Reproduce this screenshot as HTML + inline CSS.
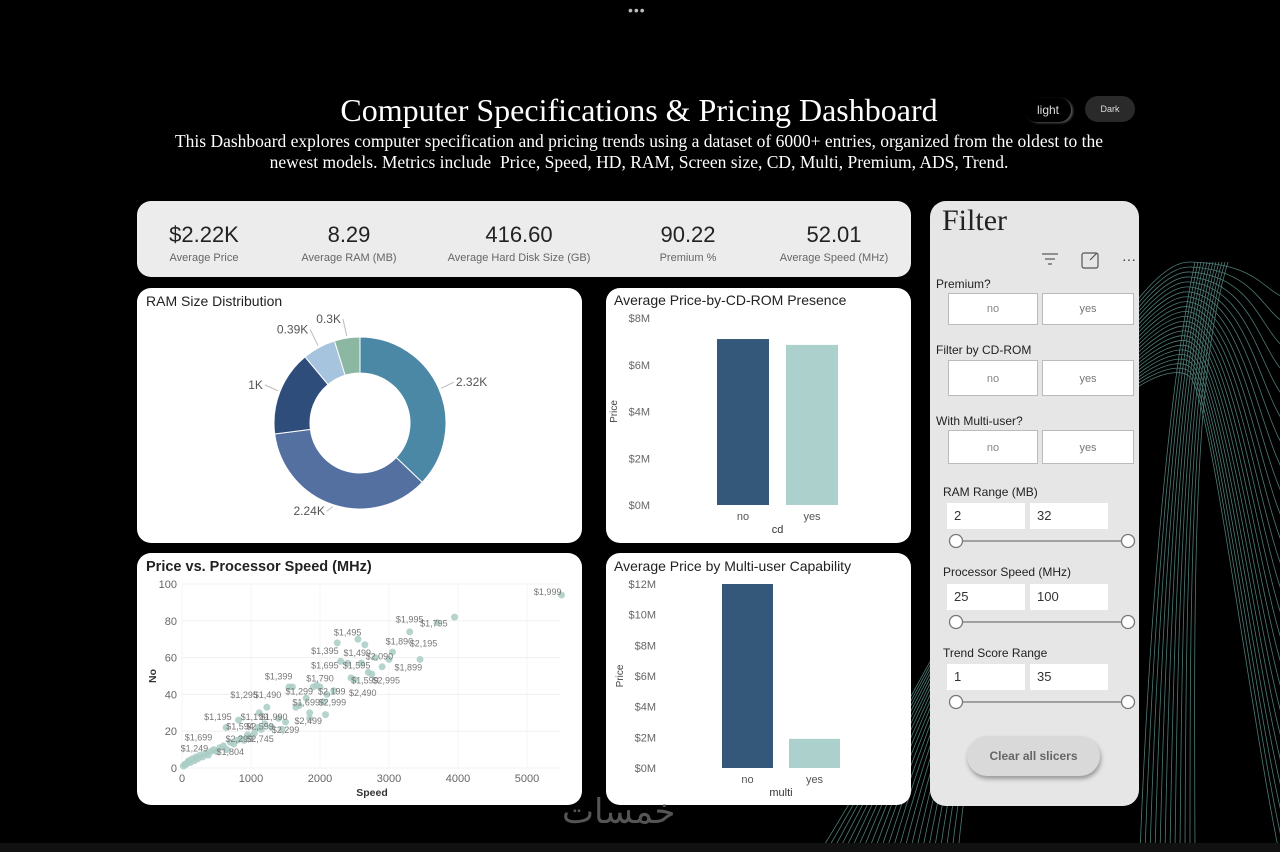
<!DOCTYPE html>
<html><head><meta charset="utf-8">
<style>
*{margin:0;padding:0;box-sizing:border-box}
html,body{width:1280px;height:852px;overflow:hidden}
body{background:#000;position:relative;font-family:"Liberation Sans",sans-serif}
.abs{position:absolute}
.card{position:absolute;background:#fff;border-radius:14px}
.serif{font-family:"Liberation Serif",serif}
.kpi{position:absolute;top:222px;text-align:center;width:180px}
.kpi b{display:block;font-weight:normal;font-size:22px;color:#222}
.kpi span{display:block;font-size:11px;color:#666;margin-top:4px}
.flbl{position:absolute;font-size:12px;color:#222}
.btn{position:absolute;background:#fff;border:1px solid #bbb;font-size:11px;color:#888;text-align:center;line-height:30px;height:32px}
.inp{position:absolute;background:#fff;height:26px;width:78px;font-size:13px;color:#333;padding:5px 7px}
</style></head><body>
<svg class="abs" style="left:0;top:0" width="1280" height="852">
<g id="waves" fill="none" stroke="#6fb0a8" stroke-width="0.8" opacity="0.7"></g>
<rect x="0" y="843" width="1280" height="9" fill="#111"/>
</svg>
<div class="abs" style="left:628px;top:2px;color:#bbb;font-size:14px;letter-spacing:1px">•••</div>
<div class="abs serif" style="left:0;width:1278px;top:92px;text-align:center;color:#fff;font-size:32px">Computer Specifications &amp; Pricing Dashboard</div>
<div class="abs serif" style="left:150px;width:978px;top:131px;text-align:center;color:#fff;font-size:17.5px;line-height:21px">This Dashboard explores computer specification and pricing trends using a dataset of 6000+ entries, organized from the oldest to the newest models. Metrics include&nbsp; Price, Speed, HD, RAM, Screen size, CD, Multi, Premium, ADS, Trend.</div>
<div class="abs" style="left:1025px;top:98px;width:46px;height:24px;border-radius:12px;background:#000;box-shadow:2px 1px 2px #555;color:#ddd;font-size:12px;text-align:center;line-height:24px">light</div>
<div class="abs" style="left:1085px;top:96px;width:50px;height:26px;border-radius:13px;background:#2a2a2a;color:#ddd;font-size:9px;text-align:center;line-height:26px">Dark</div>

<div class="card" style="left:137px;top:201px;width:774px;height:76px;background:#ececec"></div>
<div class="kpi" style="left:114px"><b>$2.22K</b><span>Average Price</span></div>
<div class="kpi" style="left:259px"><b>8.29</b><span>Average RAM (MB)</span></div>
<div class="kpi" style="left:429px;width:180px"><b>416.60</b><span>Average Hard Disk Size (GB)</span></div>
<div class="kpi" style="left:598px"><b>90.22</b><span>Premium %</span></div>
<div class="kpi" style="left:744px"><b>52.01</b><span>Average Speed (MHz)</span></div>

<div class="card" style="left:137px;top:288px;width:445px;height:255px"></div>
<div class="card" style="left:606px;top:288px;width:305px;height:255px"></div>
<div class="card" style="left:137px;top:553px;width:445px;height:252px"></div>
<div class="card" style="left:606px;top:553px;width:305px;height:252px"></div>

<svg class="abs" style="left:0;top:0" width="1280" height="852" id="charts" font-family="Liberation Sans, sans-serif">
<text x="146" y="306" font-size="14" fill="#222">RAM Size Distribution</text>
<text x="614" y="305" font-size="14" fill="#222">Average Price-by-CD-ROM Presence</text>
<text x="146" y="571" font-size="14.5" font-weight="bold" fill="#222">Price vs. Processor Speed (MHz)</text>
<text x="614" y="571" font-size="14" fill="#222">Average Price by Multi-user Capability</text>
<g id="donut"></g><g id="cd"></g><g id="multi"></g><g id="scatter"></g>
</svg>

<div class="card" style="left:930px;top:201px;width:209px;height:605px;background:#e6e6e6;border-radius:16px"></div>
<div class="abs serif" style="left:942px;top:204px;font-size:30px;color:#222">Filter</div>
<svg class="abs" style="left:1040px;top:250px" width="100" height="22">
<g stroke="#555" stroke-width="1.2" fill="none"><line x1="2" y1="4" x2="18" y2="4"/><line x1="5" y1="9" x2="15" y2="9"/><line x1="8" y1="14" x2="12" y2="14"/></g>
<g stroke="#555" stroke-width="1.2" fill="none"><rect x="42" y="3" width="16" height="15" rx="2"/><line x1="50" y1="10" x2="57" y2="3"/></g>
<text x="82" y="14" font-size="14" fill="#333">···</text>
</svg>
<div class="flbl" style="left:936px;top:277px">Premium?</div>
<div class="btn" style="left:948px;top:293px;width:90px">no</div>
<div class="btn" style="left:1042px;top:293px;width:92px;color:#777">yes</div>
<div class="flbl" style="left:936px;top:343px">Filter by CD-ROM</div>
<div class="btn" style="left:948px;top:360px;width:90px;height:36px;line-height:36px">no</div>
<div class="btn" style="left:1042px;top:360px;width:92px;height:36px;line-height:36px;color:#777">yes</div>
<div class="flbl" style="left:936px;top:414px">With Multi-user?</div>
<div class="btn" style="left:948px;top:430px;width:90px;height:34px;line-height:34px">no</div>
<div class="btn" style="left:1042px;top:430px;width:92px;height:34px;line-height:34px;color:#777">yes</div>

<div class="flbl" style="left:943px;top:485px">RAM Range (MB)</div>
<div class="inp" style="left:947px;top:503px">2</div>
<div class="inp" style="left:1030px;top:503px">32</div>
<div class="flbl" style="left:943px;top:565px">Processor Speed (MHz)</div>
<div class="inp" style="left:947px;top:584px">25</div>
<div class="inp" style="left:1030px;top:584px">100</div>
<div class="flbl" style="left:943px;top:646px">Trend Score Range</div>
<div class="inp" style="left:947px;top:664px">1</div>
<div class="inp" style="left:1030px;top:664px">35</div>
<svg class="abs" style="left:940px;top:530px" width="200" height="185">
<g stroke="#777" stroke-width="1.3" fill="#fff">
<line x1="16" y1="11" x2="188" y2="11"/><circle cx="16" cy="11" r="6.5"/><circle cx="188" cy="11" r="6.5"/>
<line x1="16" y1="92" x2="188" y2="92"/><circle cx="16" cy="92" r="6.5"/><circle cx="188" cy="92" r="6.5"/>
<line x1="16" y1="172" x2="188" y2="172"/><circle cx="16" cy="172" r="6.5"/><circle cx="188" cy="172" r="6.5"/>
</g></svg>
<div class="abs" style="left:967px;top:736px;width:133px;height:40px;border-radius:20px;background:#d9d9d9;box-shadow:1px 3px 4px #999;font-size:12px;font-weight:bold;color:#666;text-align:center;line-height:40px">Clear all slicers</div>
<div class="abs" style="left:562px;top:795px;height:40px;overflow:hidden;font-size:34px;line-height:1;color:#555;font-family:'DejaVu Sans',sans-serif">خمسات</div>

<script>
const NS="http://www.w3.org/2000/svg";
function mk(p,t,a,txt){const e=document.createElementNS(NS,t);for(const k in a)e.setAttribute(k,a[k]);if(txt!==undefined)e.textContent=txt;p.appendChild(e);return e;}
const wv=document.getElementById('waves');
for(let i=0;i<24;i++){mk(wv,'path',{d:`M ${820+i*6} 852 C ${1000} ${560-i*6}, ${1120+i*2} ${260+i*4}, ${1190} ${262+i*5} S ${1260} ${290+i*22}, ${1290} ${300+i*26}`});}
for(let i=0;i<12;i++){mk(wv,'path',{d:`M ${1140+i*5} 852 C ${1150+i*4} 600, ${1170+i*2} 380, ${1195+i*3} 262`});}

const ramCats=["2.32K","2.24K","1K","0.39K","0.3K"];
const ramVals=[2.32,2.24,1.0,0.39,0.3];
const ramColors=["#4b88a6","#5470a1","#2f4d7b","#a6c4de","#8bb7a3"];
const dg=document.getElementById('donut');
{const cx=360,cy=423,R=86,r=50;const tot=ramVals.reduce((a,b)=>a+b,0);let a0=-Math.PI/2;
ramVals.forEach((v,i)=>{const a1=a0+v/tot*2*Math.PI;const lg=(a1-a0)>Math.PI?1:0;
const p=(A,rr)=>[cx+rr*Math.cos(A),cy+rr*Math.sin(A)];
const [x0,y0]=p(a0,R),[x1,y1]=p(a1,R),[x2,y2]=p(a1,r),[x3,y3]=p(a0,r);
const s=mk(dg,'path',{d:`M${x0} ${y0}A${R} ${R} 0 ${lg} 1 ${x1} ${y1}L${x2} ${y2}A${r} ${r} 0 ${lg} 0 ${x3} ${y3}Z`,fill:ramColors[i],stroke:'#fff','stroke-width':1});


const am=(a0+a1)/2;const cs=Math.cos(am),sn=Math.sin(am);
const [ex,ey]=p(am,R+2);
let lx=cx+(R+14)*cs, ly=cy+(R+10)*sn;
if(i>=3){ly-=6;}
mk(dg,'line',{x1:ex,y1:ey,x2:lx-(cs>0?-2:2),y2:ly-3,stroke:'#bbb'});
const t=mk(dg,'text',{x:lx+(cs>0?4:-4),y:ly+1,'font-size':12,fill:'#555','text-anchor':cs>0.05?'start':'end'},ramCats[i]);


a0=a1;});}

function barChart(g,o){const y=v=>o.y0-(v/o.max)*(o.y0-o.yTop);
o.ticks.forEach((tv,i)=>{const t=mk(g,'text',{x:o.lx,y:y(tv)+4,'font-size':11,fill:'#666','text-anchor':'end'},o.tickLabels[i]);

});
const yt=mk(g,'text',{x:0,y:0,'font-size':10,fill:'#444',transform:`translate(${o.lx-33},${(o.y0+o.yTop)/2}) rotate(-90)`,'text-anchor':'middle'},'Price');


o.cats.forEach((c,i)=>{const x=o.x0+i*o.step;
const b=mk(g,'rect',{x:x,y:y(o.vals[i]),width:o.bw,height:o.y0-y(o.vals[i]),fill:o.colors[i]});


const t=mk(g,'text',{x:x+o.bw/2,y:o.y0+15,'font-size':11,fill:'#555','text-anchor':'middle'},c);

});
const xt=mk(g,'text',{x:o.x0+o.step/2+o.bw/2,y:o.y0+28,'font-size':11,fill:'#333','text-anchor':'middle'},o.xTitle);

}
const cdCats=["no","yes"];
const cdVals=[7.1,6.85];
const cdTicks=[0,2,4,6,8];
const cdTickLabels=["$0M","$2M","$4M","$6M","$8M"];
barChart(document.getElementById('cd'),{cats:cdCats,vals:cdVals,ticks:cdTicks,tickLabels:cdTickLabels,max:8,y0:505,yTop:318,lx:650,x0:717,step:69,bw:52,colors:["#34587a","#acd0cb"],xTitle:"cd"});
const mCats=["no","yes"];
const mVals=[12,1.9];
const mTicks=[0,2,4,6,8,10,12];
const mTickLabels=["$0M","$2M","$4M","$6M","$8M","$10M","$12M"];
barChart(document.getElementById('multi'),{cats:mCats,vals:mVals,ticks:mTicks,tickLabels:mTickLabels,max:12,y0:768,yTop:584,lx:656,x0:722,step:67,bw:51,colors:["#34587a","#acd0cb"],xTitle:"multi"});

const sxVals=[20,40,60,80,100,120,150,180,200,230,260,300,340,380,420,460,500,550,600,650,700,750,800,850,900,950,1000,1050,1100,1150,1200,1300,1400,1500,1550,1600,1650,1700,1800,1850,1900,1950,2000,2050,2100,2200,2250,2300,2400,2450,2500,2550,2600,2650,2700,2750,2800,2900,3000,3050,3300,3450,3700,3950,5500,640,820,1120,1230,1450,1850,2080];
const syVals=[1,2,2,3,4,3,5,4,6,5,7,6,8,7,9,10,9,11,12,10,14,13,15,16,15,18,17,19,22,21,24,22,27,25,44,44,33,34,38,30,44,45,44,36,40,42,68,58,57,49,48,70,57,67,52,51,60,55,59,63,74,59,79,82,94,22,26,30,33,21,27,29];
const ptLabels=[["$1,999",5300,94],["$1,995",3300,79],["$1,795",3650,77],["$1,495",2400,72],["$1,890",3150,67],["$2,195",3500,66],["$1,395",2070,62],["$1,499",2540,61],["$2,090",2860,59],["$1,695",2070,54],["$1,595",2530,54],["$1,899",3280,53],["$1,399",1400,48],["$1,790",2000,47],["$1,599",2650,46],["$2,995",2960,46],["$1,299",1700,40],["$2,199",2170,40],["$2,490",2620,39],["$1,295",900,38],["$1,490",1240,38],["$1,699",1800,34],["$2,999",2180,34],["$1,195",520,26],["$1,199",1050,26],["$1,990",1330,26],["$2,499",1830,24],["$1,594",840,21],["$2,599",1130,21],["$2,299",1500,19],["$1,699",240,15],["$2,299",830,14],["$2,745",1130,14],["$1,249",180,9],["$1,804",700,7]];
const xTicks=[0,1000,2000,3000,4000,5000];
const yTicks=[0,20,40,60,80,100];
const sg=document.getElementById('scatter');
const X=v=>182+v*0.069, Y=v=>768-v*1.84;
yTicks.forEach(t=>{mk(sg,'line',{x1:182,x2:560,y1:Y(t),y2:Y(t),stroke:'#f0f0f0'});
const e=mk(sg,'text',{x:177,y:Y(t)+4,'font-size':11,fill:'#666','text-anchor':'end'},t);

});
xTicks.forEach(t=>{mk(sg,'line',{x1:X(t),x2:X(t),y1:584,y2:768,stroke:'#f4f4f4'});
const e=mk(sg,'text',{x:X(t),y:782,'font-size':11,fill:'#666','text-anchor':'middle'},t);

});
sxVals.forEach((v,i)=>{const c=mk(sg,'circle',{cx:X(v),cy:Y(syVals[i]),r:3.5,fill:'#a9cdc6',opacity:0.85});

});
ptLabels.forEach(l=>{const e=mk(sg,'text',{x:X(l[1]),y:Y(l[2]),'font-size':9,fill:'#777','text-anchor':'middle'},l[0]);

});
const sxT=mk(sg,'text',{x:372,y:796,'font-size':10.5,fill:'#333','text-anchor':'middle','font-weight':'bold'},'Speed');


const syT=mk(sg,'text',{x:0,y:0,'font-size':10.5,fill:'#333','font-weight':'bold',transform:'translate(156,676) rotate(-90)','text-anchor':'middle'},'No');


</script>
</body></html>
